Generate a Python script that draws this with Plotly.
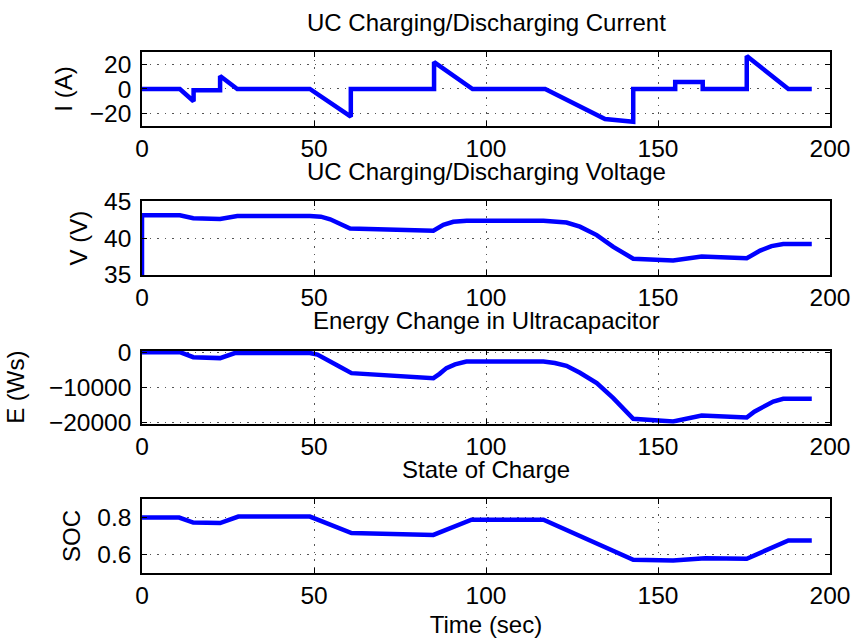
import plotly.graph_objects as go
from plotly.subplots import make_subplots

# ---------------- data ----------------
t_I = [0, 11, 15, 15, 22.7, 22.7, 27.7, 48.8, 60.7, 60.7, 84.9, 84.9, 96.1,
       117.2, 134.6, 142.8, 142.8, 155, 155, 163, 163, 175.8, 175.8, 187.9, 194.7]
I_A = [0, 0, -10, -1, -1, 10.6, 0, 0, -22.6, 0, 0, 22, 0,
       0, -24.5, -26.7, 0, 0, 5.7, 5.7, 0, 0, 26.9, 0, 0]

t_V = [0, 0, 11, 14.9, 22.7, 27.7, 48.8, 52, 54.7, 58.6, 60.5, 84.7, 87.6, 90.5,
       94.4, 116.7, 123.4, 127.3, 132.2, 137, 142.8, 154.4, 162.7, 175.8, 179.7,
       183, 186.4, 194.7]
V_V = [35, 43.1, 43.1, 42.7, 42.6, 43.0, 43.0, 42.9, 42.55, 41.8, 41.3, 41.0, 41.8, 42.2,
       42.35, 42.35, 42.1, 41.55, 40.4, 38.8, 37.2, 36.95, 37.5, 37.25, 38.3,
       38.9, 39.2, 39.2]

t_E = [0, 11, 14.9, 22.7, 27, 48.8, 51, 54.1, 57.5, 60.9, 84.7, 86.5, 88.5, 91,
       94.3, 116.7, 120, 123.4, 127.3, 132.2, 137, 142.8, 154.4, 162.7, 175.8, 178,
       180.6, 183.5, 186.4, 194.7]
E_Ws = [0, 0, -1430, -1710, -250, -250, -700, -2200, -4200, -6000, -7430, -6200, -4570, -3500,
        -2690, -2690, -3100, -3910, -5900, -8860, -13140, -19060, -19830, -18110, -18690, -17000,
        -15540, -14100, -13340, -13340]

t_S = [0, 10.8, 14.9, 22.7, 28, 48.8, 60.9, 84.7, 95.8, 116.7, 142.8, 154.4, 163.7,
       175.8, 187.9, 194.7]
SOC = [0.80, 0.80, 0.773, 0.77, 0.805, 0.805, 0.716, 0.706, 0.788, 0.788, 0.571, 0.568, 0.58,
       0.577, 0.676, 0.676]

titles = ["UC Charging/Discharging Current", "UC Charging/Discharging Voltage",
          "Energy Change in Ultracapacitor", "State of Charge"]
ylabels = ["I (A)", "V (V)", "E (Ws)", "SOC"]
xlabel = "Time (sec)"
x_ticks = [0, 50, 100, 150, 200]
y_ticks = [[-20, 0, 20], [35, 40, 45], [-20000, -10000, 0], [0.6, 0.8]]
y_ticktext = [["\u221220", "0", "20"], ["35", "40", "45"],
              ["\u221220000", "\u221210000", "0"], ["0.6", "0.8"]]
y_ranges = [[-30.2, 30.2], [35, 45], [-20470, 460], [0.5, 0.9]]
y_title_standoff = [10, 10, 18, 10]

# ---------------- figure ----------------
FONT = "Liberation Sans, Arial, sans-serif"
BLUE = "#0000FF"
fig = make_subplots(rows=4, cols=1)

series = [(t_I, I_A), (t_V, V_V), (t_E, E_Ws), (t_S, SOC)]
for i, (tx, ty) in enumerate(series):
    fig.add_trace(go.Scatter(x=tx, y=ty, mode="lines",
                             line=dict(color=BLUE, width=4.5), showlegend=False),
                  row=i + 1, col=1)

domains = [[0.858, 1.0], [0.5722, 0.7136], [0.2864, 0.4270], [0.0, 0.142]]

axis_common = dict(showline=True, linecolor="black", linewidth=1.5, mirror="ticks",
                   ticks="inside", ticklen=5, tickcolor="black", tickwidth=1,
                   showgrid=True, gridcolor="#555555", griddash="1.5px,6px", gridwidth=1,
                   zeroline=False, automargin=False,
                   tickfont=dict(family=FONT, size=24.5, color="black"))

for i in range(4):
    xa = "xaxis" if i == 0 else f"xaxis{i + 1}"
    ya = "yaxis" if i == 0 else f"yaxis{i + 1}"
    fig.layout[xa].update(range=[0, 200], tickvals=x_ticks, ticklabelstandoff=0,
                          **axis_common)
    fig.layout[ya].update(domain=domains[i], range=y_ranges[i], tickvals=y_ticks[i],
                          ticktext=y_ticktext[i], ticklabelstandoff=4,
                          title=dict(text=ylabels[i], standoff=y_title_standoff[i],
                                     font=dict(family=FONT, size=24, color="black")),
                          **axis_common)
    fig.add_annotation(text=titles[i], xref="paper", yref="paper", x=0.5, y=domains[i][1],
                       xanchor="center", yanchor="middle", yshift=30, showarrow=False,
                       font=dict(family=FONT, size=24, color="black"))

fig.layout["xaxis4"].update(title=dict(text=xlabel, standoff=18,
                                       font=dict(family=FONT, size=24, color="black")))

fig.update_layout(width=856, height=638, margin=dict(l=142, r=26, t=52, b=65),
                  paper_bgcolor="white", plot_bgcolor="white",
                  font=dict(family=FONT, size=24, color="black"))

fig.write_html("out.html")
